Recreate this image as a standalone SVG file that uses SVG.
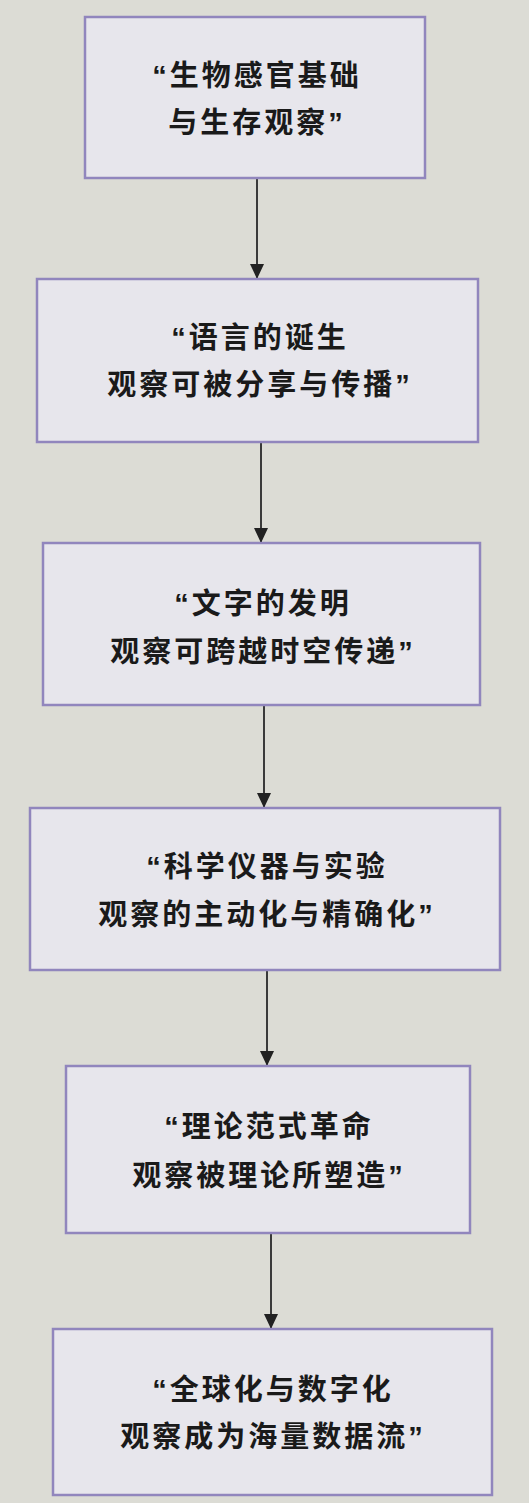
<svg xmlns="http://www.w3.org/2000/svg" width="529" height="1503" viewBox="0 0 529 1503">
<defs>
<style>
.box{fill:#e7e6ec;stroke:#9186bd;stroke-width:2.5}
.t{font-family:"Liberation Sans","Noto Sans CJK SC",sans-serif;font-size:29px;font-weight:bold;fill:#1a1a1a;text-anchor:middle;letter-spacing:3px}
.c{stroke:#3a3a3a;stroke-width:2;fill:none}
</style>
<marker id="ah" viewBox="0 0 15 14" refX="15" refY="7" markerWidth="15" markerHeight="14" markerUnits="userSpaceOnUse" orient="auto">
<path d="M0,0 L15,7 L0,14 z" fill="#222"/>
</marker>
</defs>
<rect width="529" height="1503" fill="#dcdcd5"/>
<g id="connectors">
<line class="c" x1="257" y1="179" x2="257" y2="279" marker-end="url(#ah)"/>
<line class="c" x1="261" y1="443" x2="261" y2="543" marker-end="url(#ah)"/>
<line class="c" x1="264" y1="706" x2="264" y2="808" marker-end="url(#ah)"/>
<line class="c" x1="267" y1="971" x2="267" y2="1066" marker-end="url(#ah)"/>
<line class="c" x1="271" y1="1234" x2="271" y2="1329" marker-end="url(#ah)"/>
</g>
<g id="n1">
<rect class="box" x="85" y="17" width="340" height="161"/>
<text class="t" x="257" y="86">“生物感官基础</text>
<text class="t" x="257" y="133">与生存观察”</text>
</g>
<g id="n2">
<rect class="box" x="37" y="279" width="441" height="163"/>
<text class="t" x="260" y="348">“语言的诞生</text>
<text class="t" x="260" y="395">观察可被分享与传播”</text>
</g>
<g id="n3">
<rect class="box" x="43" y="543" width="437" height="162"/>
<text class="t" x="263" y="614">“文字的发明</text>
<text class="t" x="263" y="662">观察可跨越时空传递”</text>
</g>
<g id="n4">
<rect class="box" x="30" y="808" width="470" height="162"/>
<text class="t" x="267" y="877">“科学仪器与实验</text>
<text class="t" x="267" y="925">观察的主动化与精确化”</text>
</g>
<g id="n5">
<rect class="box" x="66" y="1066" width="404" height="167"/>
<text class="t" x="269" y="1137">“理论范式革命</text>
<text class="t" x="269" y="1186">观察被理论所塑造”</text>
</g>
<g id="n6">
<rect class="box" x="53" y="1329" width="439" height="166"/>
<text class="t" x="273" y="1400">“全球化与数字化</text>
<text class="t" x="273" y="1447">观察成为海量数据流”</text>
</g>
</svg>
